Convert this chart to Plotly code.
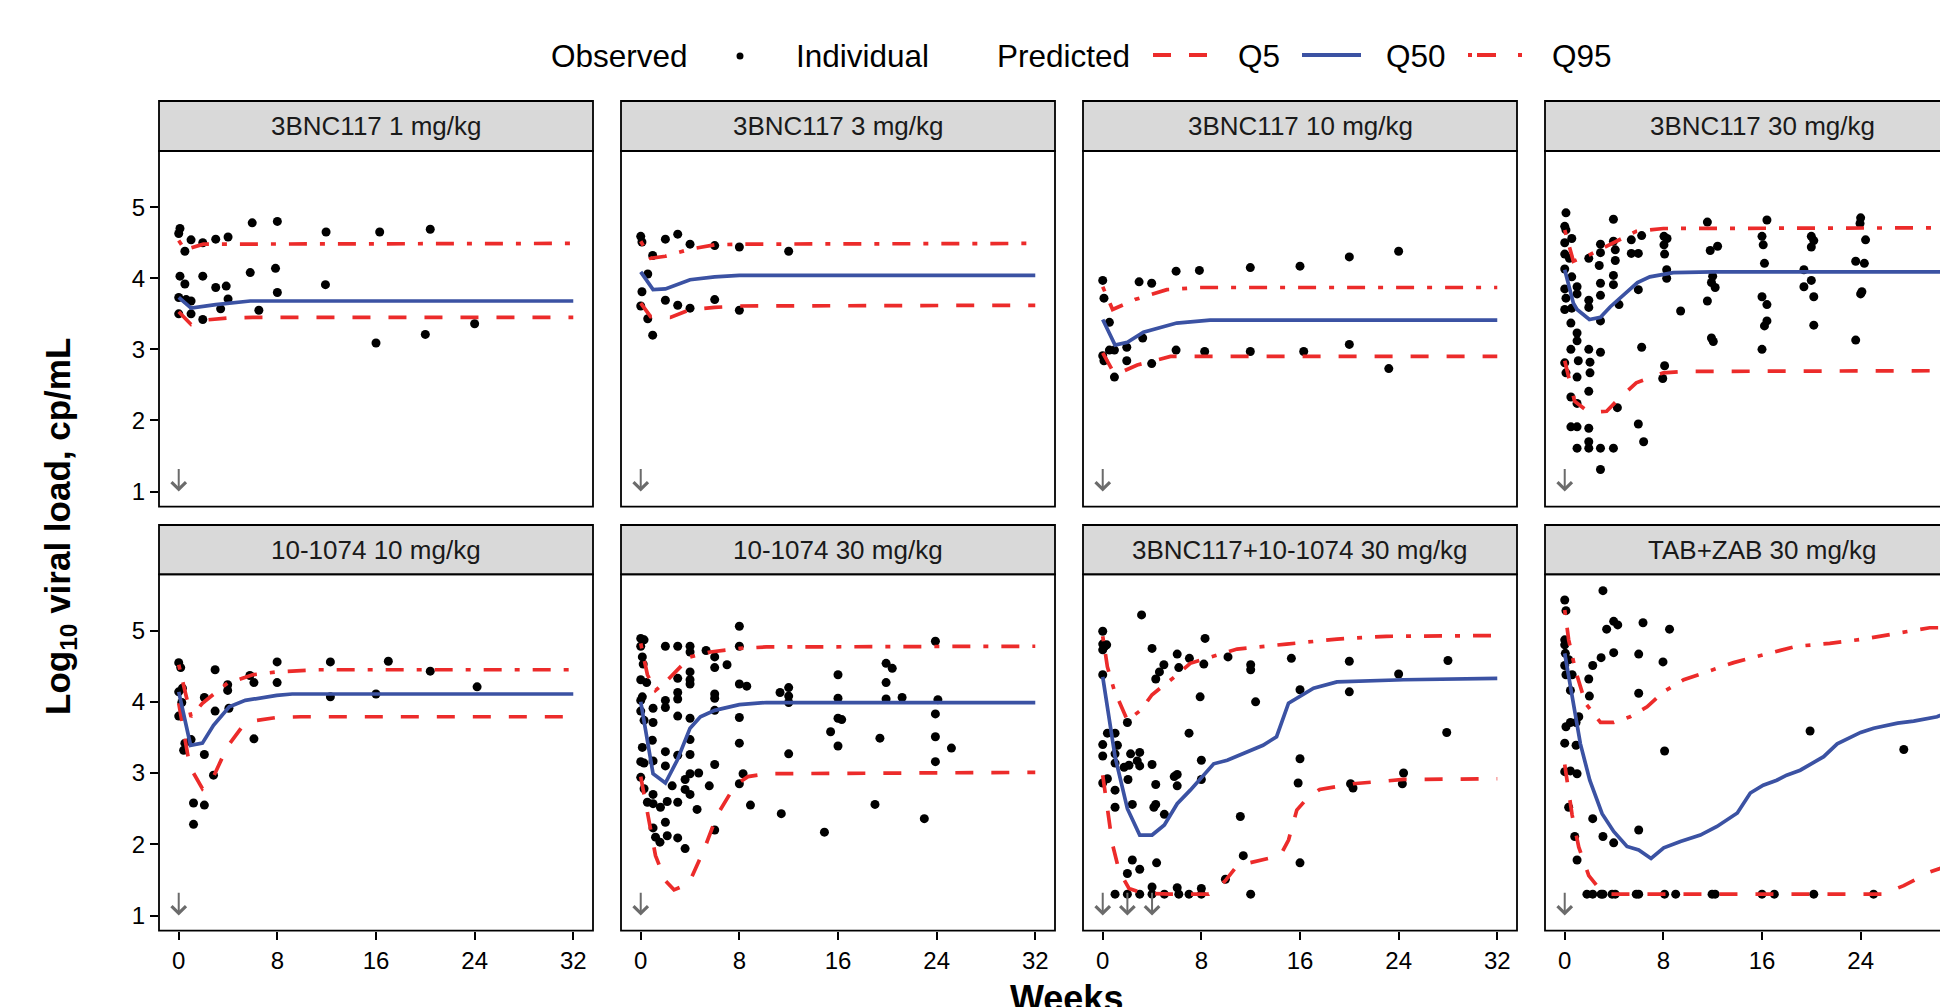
import plotly.graph_objects as go

# ---------------- data ----------------
TITLES = ["3BNC117 1 mg/kg", "3BNC117 3 mg/kg", "3BNC117 10 mg/kg", "3BNC117 30 mg/kg",
          "10-1074 10 mg/kg", "10-1074 30 mg/kg", "3BNC117+10-1074 30 mg/kg", "TAB+ZAB 30 mg/kg"]
DOSE_WEEKS = [[0], [0], [0], [0], [0], [0], [0, 2, 4], [0]]
X_TICKS = [0, 8, 16, 24, 32]
Y_TICKS = [1, 2, 3, 4, 5]

# observed (week, log10 VL)
OBS_1 = [(0, 4.63), (0.1, 4.70), (0.1, 4.03), (0, 3.73), (0, 3.50), (0.5, 4.38), (0.5, 3.92), (0.6, 3.70),
         (1.0, 4.54), (1.0, 3.68), (1.0, 3.50), (1.95, 4.50), (1.95, 4.03), (1.95, 3.42), (3.0, 4.55), (3.0, 3.87),
         (3.4, 3.57), (3.85, 3.89), (4.0, 4.58), (4.0, 3.71), (5.8, 4.08), (5.96, 4.78), (6.5, 3.55), (7.85, 4.14),
         (8.0, 4.80), (8.0, 3.80), (11.9, 3.91), (11.95, 4.65), (16.0, 3.09), (16.3, 4.65), (20.0, 3.21),
         (20.4, 4.69), (24.0, 3.36)]
OBS_2 = [(0, 4.59), (0.1, 4.51), (0.57, 4.06), (0.1, 3.81), (0, 3.61), (0.57, 3.43), (0.97, 3.20), (0.97, 4.32),
         (2.0, 4.55), (3.0, 4.62), (4.0, 4.48), (2.0, 3.69), (3.0, 3.62), (4.0, 3.58), (6.0, 4.46), (6.0, 3.70),
         (8.0, 4.44), (8.0, 3.55), (12.0, 4.38)]
OBS_3 = [(0, 3.97), (0.1, 3.72), (0.54, 3.38), (0, 2.91), (0.1, 2.84), (0.54, 2.99), (0.95, 2.99), (0.95, 2.61),
         (1.95, 3.03), (1.95, 2.84), (2.95, 3.95), (3.24, 3.16), (3.97, 3.93), (3.97, 2.80), (5.95, 4.10),
         (5.95, 2.99), (7.84, 4.11), (8.27, 2.97), (11.97, 4.15), (11.97, 2.97), (16.0, 4.17), (16.3, 2.97),
         (20.0, 4.30), (20.0, 3.07), (23.2, 2.73), (24.0, 4.38)]
OBS_4 = [(0.1, 4.92), (0, 4.73), (0.1, 4.68), (0.57, 4.56), (0, 4.50), (0, 4.34), (0.38, 4.28), (0, 4.13),
         (0.57, 4.02), (0, 3.85), (1.0, 3.88), (1.0, 3.78), (0.1, 3.72), (0, 3.56), (0.57, 3.58), (0.5, 3.37),
         (1.0, 3.23), (1.0, 3.12), (0.5, 3.00), (1.1, 2.84), (0, 2.81), (0.1, 2.67), (1.0, 2.61), (0.5, 2.33),
         (1.0, 2.24), (0.5, 1.91), (1.0, 1.91), (1.0, 1.61),
         (1.95, 1.89), (1.95, 1.70), (1.95, 1.61), (1.95, 2.41), (2.05, 2.67), (2.05, 2.82), (1.95, 3.00),
         (1.95, 3.59), (1.95, 3.69), (1.95, 4.28),
         (2.9, 4.48), (2.9, 4.36), (2.8, 4.18), (2.9, 3.93), (2.9, 3.76), (2.9, 3.40), (2.9, 2.96), (2.9, 1.61),
         (2.9, 1.31),
         (3.95, 4.83), (3.95, 4.52), (4.1, 4.40), (4.1, 4.25), (3.95, 4.04), (3.95, 3.91), (4.4, 3.63),
         (3.95, 1.61), (4.27, 2.18),
         (5.4, 4.54), (5.4, 4.35), (5.97, 4.35), (6.24, 4.60), (5.97, 3.84), (6.24, 3.03), (5.97, 1.95), (6.4, 1.70),
         (8.05, 4.59), (8.3, 4.56), (8.05, 4.47), (8.1, 4.34), (8.27, 4.12), (8.27, 4.00), (8.1, 2.77), (7.95, 2.59),
         (9.4, 3.54),
         (11.57, 4.79), (11.8, 4.39), (12.4, 4.45), (12.0, 4.03), (11.9, 3.94), (12.2, 3.87), (11.57, 3.68),
         (11.9, 3.16), (12.05, 3.11),
         (16.4, 4.82), (16.0, 4.59), (16.1, 4.47), (16.2, 4.21), (16.0, 3.74), (16.4, 3.63), (16.4, 3.40),
         (16.2, 3.33), (16.0, 3.00),
         (20.0, 4.59), (20.2, 4.53), (20.0, 4.44), (19.4, 4.12), (20.0, 3.97), (19.4, 3.88), (20.2, 3.74),
         (20.2, 3.34),
         (24.0, 4.85), (23.95, 4.77), (24.4, 4.54), (23.6, 4.24), (24.3, 4.21), (24.1, 3.81), (24.0, 3.78),
         (23.6, 3.13)]
OBS_5 = [(0, 4.55), (0.16, 4.48), (0, 4.14), (0.3, 4.19), (0.25, 3.99), (0, 3.80), (0.5, 3.42), (0.4, 3.32),
         (1.0, 3.47), (1.2, 2.58), (1.2, 2.28), (2.08, 4.06), (2.08, 3.26), (2.08, 2.55), (2.95, 4.45), (2.95, 3.87),
         (2.82, 2.97), (3.97, 4.24), (3.97, 4.16), (4.07, 3.91), (5.77, 4.37), (6.1, 4.27), (6.1, 3.48),
         (7.98, 4.56), (7.98, 4.27), (12.3, 4.56), (12.3, 4.07), (16.0, 4.11), (17.0, 4.57), (20.4, 4.43),
         (24.2, 4.21)]
OBS_6 = [(0, 4.89), (0.27, 4.87), (0, 4.78), (0.13, 4.63), (0.2, 4.53), (0, 4.31), (0.48, 4.27), (0.13, 4.07),
         (0, 4.02), (0, 3.87), (0.27, 3.74), (1.0, 3.91), (1.0, 3.71), (0.94, 3.46), (0.13, 3.36), (0, 3.16),
         (0.27, 3.14), (1.0, 3.17), (0, 2.94), (0.27, 2.78), (0.54, 2.59), (1.0, 2.70), (1.0, 2.57), (1.6, 2.52),
         (1.0, 2.23), (1.2, 2.10), (1.56, 2.03),
         (2.0, 4.78), (2.0, 4.02), (2.0, 3.92), (2.0, 3.30), (2.0, 3.10), (2.15, 2.60), (2.0, 2.31), (2.15, 2.12),
         (3.0, 4.78), (3.0, 4.33), (3.0, 4.13), (3.0, 4.04), (3.0, 3.80), (3.0, 3.25), (2.55, 2.82), (3.0, 2.59),
         (3.0, 2.09), (3.6, 1.94),
         (4.0, 4.78), (4.0, 4.70), (4.0, 4.42), (4.0, 4.31), (4.0, 4.25), (4.0, 3.77), (4.0, 3.47), (4.0, 3.26),
         (4.0, 2.99), (3.6, 2.91), (3.6, 2.77), (4.0, 2.70), (4.7, 3.00), (4.57, 2.49),
         (5.3, 4.72), (6.0, 4.63), (6.0, 4.48), (7.0, 4.52), (6.0, 4.11), (6.0, 4.05), (6.0, 3.88), (6.0, 3.12),
         (5.56, 2.82), (6.0, 2.20),
         (8.0, 5.06), (8.0, 4.78), (8.0, 4.25), (8.6, 4.22), (8.0, 3.78), (8.0, 3.42), (8.3, 2.99), (8.0, 2.85),
         (8.9, 2.55),
         (11.3, 4.13), (12.0, 4.20), (12.0, 4.08), (12.0, 3.99), (12.0, 3.27), (11.4, 2.43), (14.9, 2.17),
         (16.0, 4.38), (16.0, 4.05), (16.0, 3.77), (16.3, 3.75), (15.4, 3.58), (16.0, 3.38),
         (19.0, 2.56), (19.4, 3.49), (19.9, 4.54), (20.4, 4.47), (19.9, 4.27), (19.9, 4.04), (21.2, 4.06),
         (23.0, 2.36), (23.9, 4.85), (24.1, 4.03), (23.9, 3.83), (23.9, 3.51), (23.9, 3.16), (25.2, 3.35)]
OBS_7 = [(0, 4.99), (0, 4.81), (0.32, 4.80), (0, 4.73), (0.16, 4.78), (0, 4.38), (3.15, 5.22), (4.0, 4.75),
         (4.96, 4.52), (4.6, 4.42), (4.3, 4.32), (6.04, 4.67), (6.17, 4.48), (7.03, 4.61), (8.2, 4.53),
         (8.3, 4.89), (10.16, 4.63), (12.0, 4.52), (12.0, 4.45), (15.3, 4.61), (20.0, 4.57), (24.0, 4.39),
         (28.0, 4.58), (7.9, 4.07), (12.4, 4.00), (16.0, 4.17), (20.0, 4.14),
         (0.38, 3.56), (1.0, 3.56), (0, 3.40), (1.19, 3.39), (0, 3.24), (1.0, 3.27), (1.0, 3.14), (1.73, 3.08),
         (2.13, 3.11), (2.26, 3.27), (3.0, 3.29), (2.8, 3.17), (3.0, 3.10), (2.05, 2.91), (2.0, 3.71), (4.0, 3.12),
         (7.0, 3.56), (8.0, 3.18),
         (0, 2.86), (0.38, 2.92), (1.0, 2.76), (1.0, 2.52), (2.4, 2.56), (4.3, 2.84), (4.3, 2.56), (4.15, 2.52),
         (5.0, 2.42), (5.8, 2.95), (6.04, 2.98), (6.04, 2.82), (8.0, 2.91), (16.0, 3.20), (15.85, 2.86),
         (27.9, 3.57), (20.1, 2.85), (20.3, 2.79), (24.4, 3.00), (24.3, 2.85), (11.16, 2.39), (11.4, 1.84),
         (16.0, 1.74), (2.4, 1.78), (2.0, 1.59), (3.0, 1.65), (4.37, 1.74), (9.95, 1.51),
         (1.0, 1.30), (2.0, 1.30), (3.0, 1.30), (4.0, 1.30), (4.0, 1.40), (5.0, 1.30), (6.04, 1.39), (6.17, 1.30),
         (7.0, 1.30), (8.0, 1.38), (8.0, 1.30), (12.0, 1.30)]
OBS_8 = [(0, 5.43), (0.1, 5.28), (3.1, 5.56), (0, 4.87), (0, 4.80), (0.05, 4.68), (0.32, 4.59), (0, 4.51),
         (0.1, 4.38), (0.6, 4.38), (0.46, 4.16), (3.4, 5.02), (3.97, 5.13), (4.3, 5.08), (6.35, 5.11), (8.5, 5.02),
         (2.95, 4.62), (3.97, 4.69), (6.0, 4.67), (7.97, 4.56), (2.27, 4.51), (1.95, 4.32), (2.0, 4.08),
         (6.0, 4.12), (1.14, 3.79), (0.92, 3.71), (0.46, 3.71), (0.1, 3.65), (0, 3.42), (0.92, 3.39), (0, 3.02),
         (0.46, 3.03), (1.0, 2.99), (0.32, 2.52), (2.27, 2.36), (3.1, 2.11), (3.97, 2.02), (6.0, 2.20),
         (0.81, 2.11), (1.0, 1.78), (8.1, 3.31), (19.9, 3.59), (27.5, 3.33),
         (1.8, 1.30), (2.27, 1.30), (2.95, 1.30), (3.1, 1.30), (3.84, 1.30), (4.1, 1.30), (5.8, 1.30), (6.0, 1.30),
         (8.1, 1.30), (9.0, 1.30), (11.95, 1.30), (12.2, 1.30), (16.0, 1.30), (17.0, 1.30), (20.2, 1.30),
         (25.05, 1.30)]

# predicted quantiles (week, log10 VL)
Q5_1 = [(0, 3.53), (1, 3.35), (2, 3.41), (4, 3.44), (6, 3.45), (32, 3.45)]
Q50_1 = [(0, 3.73), (1, 3.58), (3, 3.63), (5.8, 3.68), (32, 3.68)]
Q95_1 = [(0, 4.53), (0.5, 4.40), (2, 4.48), (4, 4.48), (32, 4.49)]

Q5_2 = [(0, 3.65), (0.8, 3.46), (2.4, 3.45), (4, 3.56), (6, 3.59), (8, 3.61), (32, 3.62)]
Q50_2 = [(0, 4.09), (1, 3.84), (2, 3.85), (4, 3.98), (6, 4.02), (8, 4.04), (32, 4.04)]
Q95_2 = [(0, 4.52), (0.8, 4.28), (2, 4.31), (4, 4.41), (6, 4.47), (8, 4.48), (32, 4.49)]

Q5_3 = [(0, 2.95), (1, 2.64), (2.8, 2.78), (5.5, 2.90), (7.4, 2.90), (32, 2.90)]
Q50_3 = [(0, 3.42), (1, 3.06), (2, 3.10), (3.3, 3.24), (6, 3.37), (8.7, 3.41), (32, 3.41)]
Q95_3 = [(0, 3.88), (0.8, 3.56), (2.6, 3.70), (5.2, 3.84), (7.8, 3.87), (32, 3.87)]

Q5_4 = [(0, 2.84), (0.43, 2.52), (0.8, 2.27), (2, 2.11), (3.4, 2.13), (4.3, 2.29), (5.8, 2.53), (8, 2.67),
        (9.6, 2.69), (32, 2.70)]
Q50_4 = [(0, 4.12), (0.7, 3.65), (1, 3.56), (2, 3.42), (2.9, 3.45), (3.7, 3.60), (5.9, 3.94), (6.9, 4.02),
         (8.8, 4.08), (12, 4.09), (32, 4.09)]
Q95_4 = [(0, 4.68), (0.7, 4.24), (2, 4.33), (3.95, 4.50), (5.8, 4.66), (8, 4.70), (32, 4.71)]

Q5_5 = [(0, 3.98), (0.9, 3.09), (1.92, 2.78), (2.82, 2.95), (3.94, 3.37), (5.06, 3.63), (6.35, 3.74),
        (7.95, 3.78), (9.9, 3.79), (32, 3.79)]
Q50_5 = [(0, 4.14), (0.96, 3.39), (1.92, 3.42), (2.82, 3.67), (4.1, 3.93), (5.4, 4.02), (7.95, 4.09),
         (9.2, 4.11), (32, 4.11)]
Q95_5 = [(0, 4.52), (0.4, 4.21), (1.0, 3.79), (1.92, 3.98), (3.94, 4.26), (6.0, 4.38), (8, 4.42), (11.2, 4.45),
         (32, 4.45)]

Q5_6 = [(0, 2.95), (0.54, 2.48), (1.2, 1.84), (2.0, 1.49), (2.7, 1.36), (3.9, 1.45), (5.1, 1.91), (6.2, 2.41),
        (7.66, 2.83), (8.7, 2.95), (10.2, 2.99), (32, 3.01)]
Q50_6 = [(0, 4.00), (1.0, 2.99), (2.0, 2.86), (2.96, 3.18), (4.0, 3.63), (4.84, 3.79), (6.0, 3.88),
         (8.0, 3.96), (10.2, 3.99), (32, 3.99)]
Q95_6 = [(0, 4.82), (0.54, 4.38), (1.2, 4.16), (2.15, 4.30), (4.0, 4.63), (5.65, 4.70), (8.06, 4.75),
         (10.2, 4.77), (32, 4.78)]

Q5_7 = [(0, 2.97), (0.38, 2.52), (0.78, 2.01), (1.32, 1.63), (2.13, 1.38), (3.0, 1.33), (4.0, 1.31), (5.5, 1.30),
        (8.6, 1.30), (9.27, 1.38), (9.95, 1.49), (10.9, 1.70), (12.5, 1.77), (14.4, 1.84), (15.07, 2.06),
        (15.74, 2.48), (16.55, 2.64), (17.6, 2.77), (20.3, 2.85), (24.4, 2.91), (32, 2.92)]
Q50_7 = [(0, 4.35), (1.0, 3.23), (2.0, 2.50), (3.0, 2.13), (4.0, 2.13), (5.0, 2.27), (6.04, 2.57), (7.1, 2.76),
         (9.0, 3.13), (10.1, 3.18), (13.0, 3.39), (14.1, 3.51), (15.07, 3.98), (16.0, 4.08), (17.1, 4.19),
         (19.0, 4.28), (24.4, 4.31), (32, 4.33)]
Q95_7 = [(0, 4.92), (0.38, 4.49), (0.92, 4.17), (2.0, 3.74), (3.07, 3.88), (4.0, 4.10), (6.04, 4.38),
         (7.1, 4.54), (8.2, 4.60), (10.9, 4.74), (14.9, 4.81), (19.0, 4.88), (23.0, 4.92), (27.1, 4.93),
         (32, 4.93)]

Q5_8 = [(0, 3.12), (0.2, 2.89), (0.6, 2.41), (1.14, 1.96), (1.95, 1.56), (2.6, 1.42), (3.7, 1.30), (13.4, 1.30),
        (25.8, 1.30), (27.5, 1.42), (29.6, 1.61), (31.1, 1.70), (32, 1.73)]
Q50_8 = [(0, 4.68), (0.46, 4.21), (1.27, 3.41), (2.03, 2.90), (3.03, 2.43), (3.97, 2.18), (5.05, 1.97),
         (6.0, 1.92), (7.0, 1.80), (8.03, 1.95), (9.38, 2.04), (11.0, 2.13), (12.35, 2.25), (14.0, 2.44),
         (15.05, 2.72), (16.1, 2.83), (17.2, 2.90), (18.0, 2.97), (19.1, 3.04), (21.0, 3.23), (22.1, 3.41),
         (24.0, 3.57), (25.05, 3.63), (27.0, 3.70), (28.3, 3.73), (30.2, 3.79), (31.1, 3.86), (32, 3.93)]
Q95_8 = [(0, 5.29), (0.32, 4.87), (0.86, 4.45), (1.68, 3.98), (2.9, 3.71), (3.97, 3.71), (5.3, 3.79),
         (6.68, 3.93), (8.0, 4.14), (9.65, 4.31), (11.5, 4.42), (13.7, 4.55), (16.1, 4.66), (18.8, 4.78),
         (21.5, 4.82), (24.2, 4.88), (26.9, 4.96), (29.6, 5.04), (32, 5.04)]

OBS = [OBS_1, OBS_2, OBS_3, OBS_4, OBS_5, OBS_6, OBS_7, OBS_8]
Q5 = [Q5_1, Q5_2, Q5_3, Q5_4, Q5_5, Q5_6, Q5_7, Q5_8]
Q50 = [Q50_1, Q50_2, Q50_3, Q50_4, Q50_5, Q50_6, Q50_7, Q50_8]
Q95 = [Q95_1, Q95_2, Q95_3, Q95_4, Q95_5, Q95_6, Q95_7, Q95_8]

# ---------------- style / layout ----------------
W, H = 1948, 1007
OFF = 8  # page offset of the plot div (default body margin)
FONT = "Liberation Sans, Arial, Helvetica, sans-serif"
RED = "#EC2B2A"
BLUE = "#3B52A3"
ARROW = "#6B6B6B"
LW = 3.7
DASH_Q5 = "18px,18px"
DASH_Q95 = "5px,13px,18px,13px"

COL_LEFT = [159, 621, 1083, 1545]   # page px
PANEL_W = 434
STRIP_Y = [(101, 151), (525, 574.3)]
PANEL_Y = [(151, 506.7), (574.3, 930.7)]
X_MIN, X_MAX = -1.6, 33.6
Y_RANGE = [0.787, 5.79]
PX_PER_WK = PANEL_W / (X_MAX - X_MIN)


def px(x):
    return (x - OFF) / W


def py(y):
    return 1 - (y - OFF) / H


fig = go.Figure()
shapes = []
annotations = []
layout_axes = {}

for i in range(8):
    r, c = divmod(i, 4)
    n = i + 1
    xs = "" if n == 1 else str(n)
    left = COL_LEFT[c]
    right = left + PANEL_W
    x_hi = X_MAX
    dom_right = right
    if right - OFF > W:
        dom_right = W + OFF
        x_hi = X_MIN + (dom_right - left) / PX_PER_WK
    top, bot = PANEL_Y[r]
    layout_axes["xaxis" + xs] = dict(
        domain=[px(left), px(dom_right)], range=[X_MIN, x_hi], anchor="y" + xs,
        tickvals=X_TICKS, showgrid=False, zeroline=False, showline=False,
        ticks="outside" if r == 1 else "", showticklabels=(r == 1),
        ticklen=8, tickwidth=1.8, tickcolor="black",
        tickfont=dict(family=FONT, size=24, color="black"), fixedrange=True)
    layout_axes["yaxis" + xs] = dict(
        domain=[py(bot), py(top)], range=Y_RANGE, anchor="x" + xs,
        tickvals=Y_TICKS, showgrid=False, zeroline=False, showline=False,
        ticks="outside" if c == 0 else "", showticklabels=(c == 0),
        ticklen=8, tickwidth=1.8, tickcolor="black",
        tickfont=dict(family=FONT, size=24, color="black"), fixedrange=True)

    # observed points
    fig.add_trace(go.Scatter(
        x=[p[0] for p in OBS[i]], y=[p[1] for p in OBS[i]], mode="markers",
        marker=dict(color="black", size=9, line=dict(width=0)),
        xaxis="x" + xs, yaxis="y" + xs, showlegend=False, hoverinfo="skip"))
    # predicted quantiles
    for q, color, dash in ((Q5[i], RED, DASH_Q5), (Q50[i], BLUE, "solid"), (Q95[i], RED, DASH_Q95)):
        fig.add_trace(go.Scatter(
            x=[p[0] for p in q], y=[p[1] for p in q], mode="lines",
            line=dict(color=color, width=LW, dash=dash),
            xaxis="x" + xs, yaxis="y" + xs, showlegend=False, hoverinfo="skip"))

    # dose arrows
    for d in DOSE_WEEKS[i]:
        annotations.append(dict(
            x=d, y=1.0, ax=d, ay=1.34, xref="x" + xs, yref="y" + xs, axref="x" + xs, ayref="y" + xs,
            text="", showarrow=True, arrowhead=4, arrowsize=1.4, arrowwidth=2, arrowcolor=ARROW))

    # strip
    s0, s1 = STRIP_Y[r]
    shapes.append(dict(type="rect", xref="paper", yref="paper",
                       x0=px(left), x1=px(right), y0=py(s1), y1=py(s0),
                       fillcolor="#D9D9D9", line=dict(color="black", width=1.8), layer="above"))
    annotations.append(dict(x=px((left + right) / 2), y=py((s0 + s1) / 2), xref="paper", yref="paper",
                            text=TITLES[i], showarrow=False, xanchor="center", yanchor="middle",
                            font=dict(family=FONT, size=26, color="#1A1A1A")))
    # panel border
    shapes.append(dict(type="rect", xref="paper", yref="paper",
                       x0=px(left), x1=px(right), y0=py(bot), y1=py(top),
                       line=dict(color="black", width=1.8), fillcolor="rgba(0,0,0,0)", layer="above"))

# partially visible last tick label of the cut-off panel
annotations.append(dict(x=px(COL_LEFT[3] + (32 - X_MIN) * PX_PER_WK), y=py(942), xref="paper", yref="paper",
                        text="32", showarrow=False, xanchor="center", yanchor="top",
                        font=dict(family=FONT, size=24, color="black")))

# axis titles
annotations.append(dict(x=px(60), y=py(527), xref="paper", yref="paper", textangle=-90,
                        text="<b>Log<sub>10</sub> viral load, cp/mL</b>", showarrow=False,
                        xanchor="center", yanchor="middle", font=dict(family=FONT, size=35, color="black")))
annotations.append(dict(x=px(1066), y=py(998), xref="paper", yref="paper",
                        text="<b>Weeks</b>", showarrow=False,
                        xanchor="center", yanchor="middle", font=dict(family=FONT, size=36, color="black")))

# legend (drawn manually to mimic the two-part ggplot legend)
LEG_Y = 56
LEG_FONT = dict(family=FONT, size=31.5, color="black")
for label, x in (("Observed", 549), ("Individual", 794), ("Predicted", 995), ("Q5", 1236), ("Q50", 1384),
                 ("Q95", 1550)):
    annotations.append(dict(x=px(x), y=py(LEG_Y), xref="paper", yref="paper", text=label, showarrow=False,
                            xanchor="left", yanchor="middle", font=LEG_FONT))
shapes.append(dict(type="circle", xref="paper", yref="paper", x0=px(736.5), x1=px(743.5),
                   y0=py(LEG_Y + 3.5), y1=py(LEG_Y - 3.5), fillcolor="black", line=dict(width=0)))
shapes.append(dict(type="line", xref="paper", yref="paper", x0=px(1153), x1=px(1208), y0=py(55), y1=py(55),
                   line=dict(color=RED, width=LW + 0.5, dash=DASH_Q5)))
shapes.append(dict(type="line", xref="paper", yref="paper", x0=px(1302), x1=px(1361), y0=py(55), y1=py(55),
                   line=dict(color=BLUE, width=LW + 0.5)))
shapes.append(dict(type="line", xref="paper", yref="paper", x0=px(1468), x1=px(1523), y0=py(55), y1=py(55),
                   line=dict(color=RED, width=LW + 0.5, dash="4px,5px,19px,22px")))

fig.update_layout(
    width=W, height=H, margin=dict(l=0, r=0, t=0, b=0),
    paper_bgcolor="white", plot_bgcolor="white",
    font=dict(family=FONT, color="black"),
    showlegend=False, shapes=shapes, annotations=annotations,
    **layout_axes)

fig.write_html("out.html")
